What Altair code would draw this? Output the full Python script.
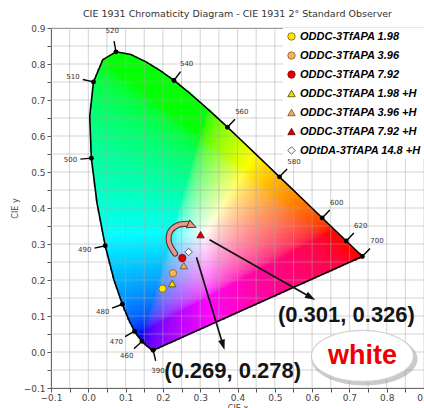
import math
import numpy as np
import pandas as pd
import altair as alt

alt.data_transformers.disable_max_rows()

# ---------------- data ----------------
# CIE 1931 2-degree spectral locus (chromaticity x, y) every 5 nm
wavelength = [380, 385, 390, 395, 400, 405, 410, 415, 420, 425, 430, 435, 440, 445,
              450, 455, 460, 465, 470, 475, 480, 485, 490, 495, 500, 505, 510, 515,
              520, 525, 530, 535, 540, 545, 550, 555, 560, 565, 570, 575, 580, 585,
              590, 595, 600, 605, 610, 615, 620, 625, 630, 635, 640, 645, 650, 655,
              660, 665, 670, 675, 680, 685, 690, 695, 700]
locus_x = [0.1741, 0.1740, 0.1738, 0.1736, 0.1733, 0.1730, 0.1726, 0.1721, 0.1714, 0.1703,
           0.1689, 0.1669, 0.1644, 0.1611, 0.1566, 0.1510, 0.1440, 0.1355, 0.1241, 0.1096,
           0.0913, 0.0687, 0.0454, 0.0235, 0.0082, 0.0039, 0.0139, 0.0389, 0.0743, 0.1142,
           0.1547, 0.1929, 0.2296, 0.2658, 0.3016, 0.3373, 0.3731, 0.4087, 0.4441, 0.4788,
           0.5125, 0.5448, 0.5752, 0.6029, 0.6270, 0.6482, 0.6658, 0.6801, 0.6915, 0.7006,
           0.7079, 0.7140, 0.7190, 0.7230, 0.7260, 0.7283, 0.7300, 0.7311, 0.7320, 0.7327,
           0.7334, 0.7340, 0.7344, 0.7346, 0.7347]
locus_y = [0.0050, 0.0050, 0.0049, 0.0049, 0.0048, 0.0048, 0.0048, 0.0048, 0.0051, 0.0058,
           0.0069, 0.0086, 0.0109, 0.0138, 0.0177, 0.0227, 0.0297, 0.0399, 0.0578, 0.0868,
           0.1327, 0.2007, 0.2950, 0.4127, 0.5384, 0.6548, 0.7502, 0.8120, 0.8338, 0.8262,
           0.8059, 0.7816, 0.7543, 0.7243, 0.6923, 0.6589, 0.6245, 0.5896, 0.5547, 0.5202,
           0.4866, 0.4544, 0.4242, 0.3965, 0.3725, 0.3514, 0.3340, 0.3197, 0.3083, 0.2993,
           0.2920, 0.2859, 0.2809, 0.2770, 0.2740, 0.2717, 0.2700, 0.2689, 0.2680, 0.2673,
           0.2666, 0.2660, 0.2656, 0.2654, 0.2653]

tick_wavelengths = [390, 460, 470, 480, 490, 500, 510, 520, 540, 560, 580, 600, 620, 700]

series = ["ODDC-3TfAPA 1.98", "ODDC-3TfAPA 3.96", "ODDC-3TfAPA 7.92",
          "ODDC-3TfAPA 1.98 +H", "ODDC-3TfAPA 3.96 +H", "ODDC-3TfAPA 7.92 +H",
          "ODtDA-3TfAPA 14.8 +H"]
series_x = [0.199, 0.227, 0.252, 0.225, 0.256, 0.301, 0.269]
series_y = [0.176, 0.219, 0.261, 0.190, 0.240, 0.326, 0.278]
series_fill = ["#ffe800", "#f2b45a", "#e00000", "#f0e000", "#e4b060", "#d00000", "#ffffff"]
series_stroke = ["#6b6000", "#8a6020", "#900000", "#4a4400", "#6a5020", "#700000", "#333333"]
series_shape = ["circle", "circle", "circle",
                "triangle-up", "triangle-up", "triangle-up", "diamond"]

grid_values = [-0.1, -0.05, 0.0, 0.05, 0.1, 0.15, 0.2, 0.25, 0.3, 0.35, 0.4,
               0.45, 0.5, 0.55, 0.6, 0.65, 0.7, 0.75, 0.8, 0.85, 0.9]

arrow_x0 = [0.325, 0.290]
arrow_y0 = [0.312, 0.263]
arrow_x1 = [0.608, 0.365]
arrow_y1 = [0.145, 0.006]

curve_x = [0.2328, 0.2167, 0.2194, 0.2395, 0.2663]
curve_y = [0.2731, 0.3036, 0.3342, 0.3522, 0.3564]
curve_tip_x = [0.2896]
curve_tip_y = [0.3460]

note_text = ["(0.301, 0.326)", "(0.269, 0.278)"]
note_x = [0.692, 0.387]
note_y = [0.104, -0.052]

badge_text = ["white"]
badge_x = [0.735]
badge_y = [-0.011]

TITLE = "CIE 1931 Chromaticity Diagram - CIE 1931 2\u00b0 Standard Observer"

# ---------------- geometry helpers ----------------
W, H = 373, 360
DOM = [-0.1, 0.9]
KX = W / (DOM[1] - DOM[0])
KY = H / (DOM[1] - DOM[0])
FONT = "DejaVu Sans"

label_expr = ("abs(datum.value*10 - round(datum.value*10)) < 0.01 ? "
              "format(datum.value, '.1f') : ''")


def make_axis(title, is_x):
    return alt.Axis(values=grid_values, labelExpr=label_expr, grid=False,
                    tickSize=4, tickColor="#555", domainColor="#555",
                    labelFont=FONT, labelFontSize=9, labelColor="#444",
                    labelOverlap=False, labelFlush=False,
                    labelPadding=1 if is_x else 2,
                    title=title, titleFont=FONT, titleFontSize=8,
                    titleFontWeight="normal", titleColor="#444",
                    titlePadding=2 if is_x else 4)


def X(field):
    return alt.X(field, type="quantitative",
                 scale=alt.Scale(domain=DOM, nice=False, zero=False),
                 axis=make_axis("CIE x", True))


def Y(field):
    return alt.Y(field, type="quantitative",
                 scale=alt.Scale(domain=DOM, nice=False, zero=False),
                 axis=make_axis("CIE y", False))


# ---------------- colour field inside the locus ----------------
step = 0.005
gx = np.arange(step / 2, 0.74, step)
gy = np.arange(step / 2, 0.84, step)
GX, GY = np.meshgrid(gx, gy)
px = GX.ravel()
py = GY.ravel()
poly_x = np.array(locus_x)
poly_y = np.array(locus_y)
inside = np.zeros(px.shape, dtype=bool)
n = len(poly_x)
j = n - 1
for i in range(n):
    xi, yi, xj, yj = poly_x[i], poly_y[i], poly_x[j], poly_y[j]
    cond = (yi > py) != (yj > py)
    with np.errstate(divide="ignore", invalid="ignore"):
        xint = (xj - xi) * (py - yi) / (yj - yi) + xi
    inside ^= cond & (px < xint)
    j = i
px = px[inside]
py = py[inside]
XYZ = np.vstack([px / py, np.ones_like(px), (1 - px - py) / py])
M = np.array([[3.2406, -1.5372, -0.4986],
              [-0.9689, 1.8758, 0.0415],
              [0.0557, -0.2040, 1.0570]])
rgb = M @ XYZ
rgb = rgb / rgb.max(axis=0)
rgb = np.clip(rgb, 0, 1)
enc = np.where(rgb <= 0.0031308, 12.92 * rgb, 1.055 * np.power(rgb, 1 / 2.4) - 0.055)
enc = np.clip(np.round(enc * 255), 0, 255).astype(int)
hexes = ["#%02x%02x%02x" % (r, g, b) for r, g, b in enc.T]
raster = pd.DataFrame({
    "x0": np.round(px - step / 2, 4), "x1": np.round(px + step / 2, 4),
    "y0": np.round(py - step / 2, 4), "y1": np.round(py + step / 2, 4),
    "c": hexes,
})

# ---------------- locus outline and wavelength ticks ----------------
locus = pd.DataFrame({"x": locus_x + [locus_x[0]], "y": locus_y + [locus_y[0]],
                      "i": list(range(len(locus_x) + 1))})

rows = []
for w in tick_wavelengths:
    k = wavelength.index(w)
    p = max(k - 1, 0)
    q = min(k + 1, len(wavelength) - 1)
    dx = (locus_x[q] - locus_x[p]) * KX
    dy = (locus_y[q] - locus_y[p]) * KY
    L = math.hypot(dx, dy)
    nx, ny = -dy / L, dx / L
    x, y = locus_x[k], locus_y[k]
    rows.append({"w": str(w), "x": x, "y": y,
                 "tx": x + nx * 11 / KX, "ty": y + ny * 11 / KY,
                 "lx": x + nx * 21 / KX, "ly": y + ny * 21 / KY})
ticks = pd.DataFrame(rows)

grid_df = pd.DataFrame({"v": grid_values})

markers = pd.DataFrame({"series": series, "x": series_x, "y": series_y})

# straight arrows
ar = []
for x0, y0, x1, y1 in zip(arrow_x0, arrow_y0, arrow_x1, arrow_y1):
    ux, uy = (x1 - x0) * KX, (y1 - y0) * KY
    L = math.hypot(ux, uy)
    ux, uy = ux / L, uy / L
    ang = math.degrees(math.atan2(ux, uy)) % 360
    hx, hy = x1 - ux * 5 / KX, y1 - uy * 5 / KY
    ar.append({"x0": x0, "y0": y0, "x1": hx, "y1": hy, "hx": hx, "hy": hy, "a": ang})
arrows = pd.DataFrame(ar)

curve = pd.DataFrame({"x": curve_x, "y": curve_y, "i": list(range(len(curve_x)))})
cux, cuy = (curve_tip_x[0] - curve_x[-1]) * KX, (curve_tip_y[0] - curve_y[-1]) * KY
cL = math.hypot(cux, cuy)
curve_head = pd.DataFrame({
    "x": [(curve_tip_x[0] + curve_x[-1]) / 2],
    "y": [(curve_tip_y[0] + curve_y[-1]) / 2],
    "a": [math.degrees(math.atan2(cux / cL, cuy / cL)) % 360],
})

notes = pd.DataFrame({"t": note_text, "x": note_x, "y": note_y})
badge = pd.DataFrame({"t": badge_text, "x": badge_x, "y": badge_y})

# ---------------- layers ----------------
field = alt.Chart(raster).mark_rect(strokeWidth=0.6).encode(
    x=X("x0"), x2="x1", y=Y("y0"), y2="y1",
    color=alt.Color("c:N", scale=None), stroke=alt.Stroke("c:N", scale=None))

vgrid = alt.Chart(grid_df).mark_rule(color="#a8a8a8", opacity=0.5, strokeWidth=1).encode(x=X("v"))
hgrid = alt.Chart(grid_df).mark_rule(color="#a8a8a8", opacity=0.5, strokeWidth=1).encode(y=Y("v"))

outline = alt.Chart(locus).mark_line(color="black", strokeWidth=1.6).encode(
    x=X("x"), y=Y("y"), order="i:Q")

tick_lines = alt.Chart(ticks).mark_rule(color="black", strokeWidth=1.4).encode(
    x=X("x"), y=Y("y"), x2="tx", y2="ty")
tick_dots = alt.Chart(ticks).mark_circle(color="black", size=24, opacity=1).encode(
    x=X("x"), y=Y("y"))
tick_text = alt.Chart(ticks).mark_text(font=FONT, fontSize=7, color="#333",
                                       align="center", baseline="middle").encode(
    x=X("lx"), y=Y("ly"), text="w:N")

curve_outline = alt.Chart(curve).mark_line(interpolate="catmull-rom", color="#5a3030",
                                           strokeWidth=6, strokeCap="round").encode(
    x=X("x"), y=Y("y"), order="i:Q")
curve_body = alt.Chart(curve).mark_line(interpolate="catmull-rom", color="#e89a8e",
                                        strokeWidth=3.8, strokeCap="round").encode(
    x=X("x"), y=Y("y"), order="i:Q")
curve_tip = alt.Chart(curve_head).mark_point(
    shape="M0,-1L1,1L-1,1Z", size=70, filled=True, fill="#e89a8e",
    stroke="#5a3030", strokeWidth=1, opacity=1).encode(
    x=X("x"), y=Y("y"), angle=alt.Angle("a:Q", scale=None))

arrow_lines = alt.Chart(arrows).mark_rule(color="#111", strokeWidth=1.7).encode(
    x=X("x0"), y=Y("y0"), x2="x1", y2="y1")
arrow_heads = alt.Chart(arrows).mark_point(
    shape="M0,-1L0.65,1L-0.65,1Z", size=110, filled=True, color="#111", opacity=1).encode(
    x=X("hx"), y=Y("hy"), angle=alt.Angle("a:Q", scale=None))

legend = alt.Legend(title=None, orient="none", legendX=232, legendY=0)
points = alt.Chart(markers).mark_point(filled=True, size=55, strokeWidth=0.8,
                                       opacity=1).encode(
    x=X("x"), y=Y("y"),
    fill=alt.Fill("series:N", scale=alt.Scale(domain=series, range=series_fill),
                  legend=legend),
    stroke=alt.Stroke("series:N", scale=alt.Scale(domain=series, range=series_stroke),
                      legend=legend),
    shape=alt.Shape("series:N", scale=alt.Scale(domain=series, range=series_shape),
                    legend=legend))

note_marks = alt.Chart(notes).mark_text(font="Liberation Sans", fontSize=22,
                                        fontWeight="bold", color="#151515",
                                        align="center", baseline="middle").encode(
    x=X("x"), y=Y("y"), text="t:N")

ELLIPSE = "M-1,0A1,0.5,0,1,0,1,0A1,0.5,0,1,0,-1,0Z"
badge_shadow = alt.Chart(badge).mark_point(shape=ELLIPSE, size=106 ** 2, filled=True,
                                           color="#8a8a8a", opacity=0.45,
                                           xOffset=2, yOffset=3).encode(
    x=X("x"), y=Y("y"))
badge_bg = alt.Chart(badge).mark_point(shape=ELLIPSE, size=102 ** 2, filled=True,
                                       fill="white", stroke="#d0d0d0", strokeWidth=1.2,
                                       opacity=1).encode(x=X("x"), y=Y("y"))
badge_text_mark = alt.Chart(badge).mark_text(font="Liberation Sans", fontSize=27,
                                             fontWeight="bold", color="#ee0000",
                                             align="center", baseline="middle").encode(
    x=X("x"), y=Y("y"), text="t:N")

chart = alt.layer(
    field, vgrid, hgrid, outline, tick_lines, tick_dots, tick_text,
    curve_outline, curve_body, curve_tip, arrow_lines, arrow_heads, points,
    note_marks, badge_shadow, badge_bg, badge_text_mark,
).properties(
    width=W, height=H,
    title=alt.TitleParams(text=TITLE, font=FONT, fontSize=9.5, fontWeight="normal",
                          color="#333", anchor="middle", offset=6),
    padding={"left": 51, "top": 28, "right": 0, "bottom": 20},
    autosize=alt.AutoSizeParams(type="none"),
).configure_view(
    stroke="#999", strokeWidth=1
).configure_legend(
    fillColor="white", padding=3, rowPadding=7,
    labelFont="Liberation Sans", labelFontSize=11, labelFontWeight="bold",
    labelFontStyle="italic", labelColor="black", labelOffset=3, labelLimit=200,
    symbolSize=55, symbolStrokeWidth=0.8,
)

chart.save("out.html", embed_options={"renderer": "svg", "actions": False})
